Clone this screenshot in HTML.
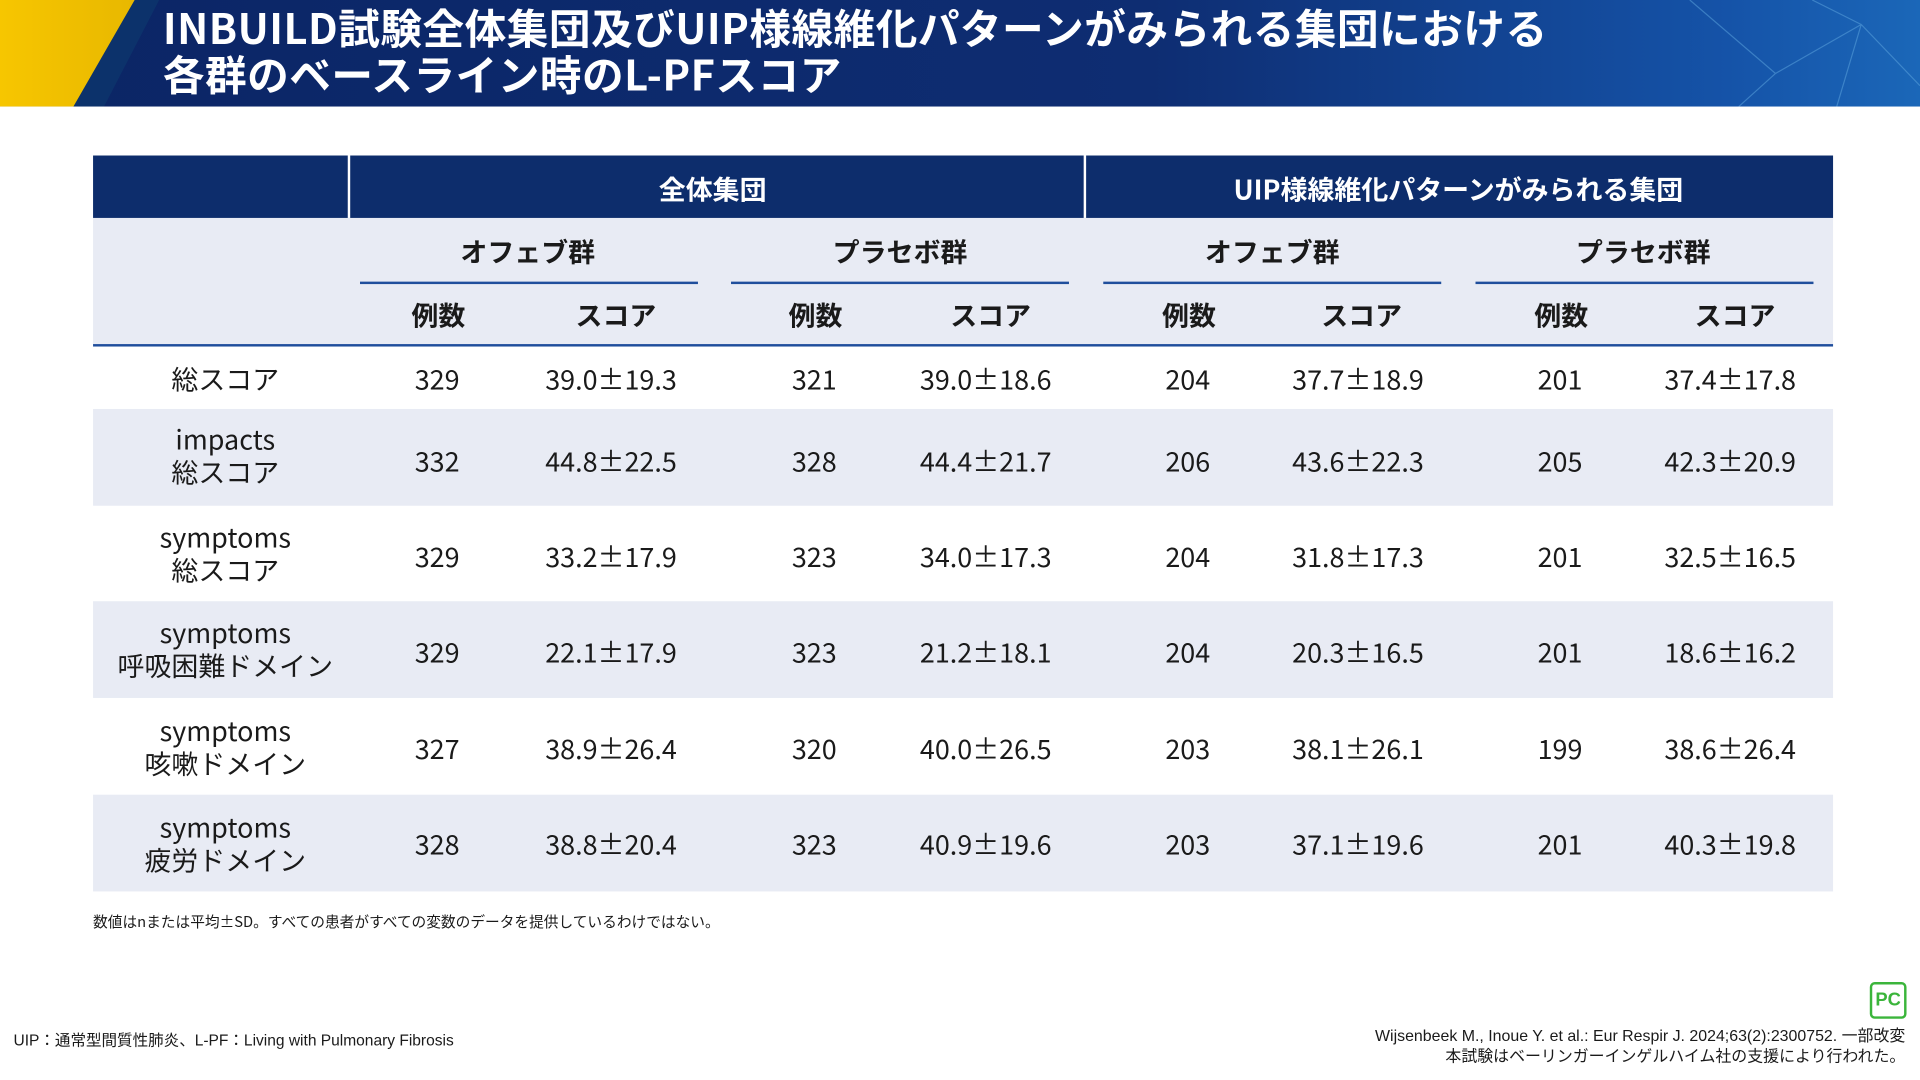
<!DOCTYPE html>
<html><head><meta charset="utf-8"><style>
html,body{margin:0;padding:0;width:1920px;height:1080px;overflow:hidden;background:#fff}
#s{position:absolute;left:0;top:0;width:1568px;height:882px;transform:scale(1.22449);transform-origin:0 0;font-family:"Noto Sans CJK JP","Liberation Sans",sans-serif;color:#1a1a1a}
.hdr{position:absolute;left:0;top:0;width:1568px;height:87px;background:linear-gradient(90deg,#0b2565 0%,#0e2d72 60%,#1553a8 90%,#1b67b8 100%);overflow:hidden}
.t{position:absolute;left:133px;color:#fff;font-weight:bold;font-size:34px;line-height:38px;letter-spacing:0.4px;white-space:nowrap}
.a{position:absolute;white-space:nowrap;text-align:center;transform:translateX(-50%);font-size:22px;line-height:26px}
.b{font-weight:bold}
</style></head><body><div id="s">
<div class="hdr">
<svg width="1568" height="87" style="position:absolute;left:0;top:0">
<defs><linearGradient id="y" x1="0" y1="0" x2="1" y2="0"><stop offset="0" stop-color="#f7c600"/><stop offset="1" stop-color="#e8b800"/></linearGradient></defs>
<polygon points="0,0 110,0 60,87 0,87" fill="url(#y)"/>
<polygon points="60,87 110,0 130,0 85,87" fill="#0d3a6e" opacity="0.6"/>
<g stroke="#5fa8e0" stroke-width="1" opacity="0.5" fill="none">
<path d="M1380,0 L1450,60 L1520,20 L1568,70 M1450,60 L1420,87 M1520,20 L1500,87 M1480,0 L1520,20"/>
</g>
</svg>
<div class="t" style="top:3px">INBUILD試験全体集団及びUIP様線維化パターンがみられる集団における</div>
<div class="t" style="top:41px">各群のベースライン時のL-PFスコア</div>
</div>

<div style="position:absolute;left:76px;top:127px;width:1421px;height:51px;background:#0d2d6c"></div>
<div style="position:absolute;left:284px;top:127px;width:2px;height:51px;background:#fff"></div>
<div style="position:absolute;left:885px;top:127px;width:2px;height:51px;background:#fff"></div>
<div style="position:absolute;left:76px;top:178px;width:1421px;height:104px;background:#e8ebf4"></div>
<div style="position:absolute;left:76px;top:281px;width:1421px;height:2px;background:#1f4e9c"></div>
<div style="position:absolute;left:294px;top:230px;width:276px;height:2px;background:#1f4e9c"></div>
<div style="position:absolute;left:597px;top:230px;width:276px;height:2px;background:#1f4e9c"></div>
<div style="position:absolute;left:901px;top:230px;width:276px;height:2px;background:#1f4e9c"></div>
<div style="position:absolute;left:1205px;top:230px;width:276px;height:2px;background:#1f4e9c"></div>
<div style="position:absolute;left:76px;top:334px;width:1421px;height:79px;background:#e8ebf4"></div>
<div style="position:absolute;left:76px;top:491px;width:1421px;height:79px;background:#e8ebf4"></div>
<div style="position:absolute;left:76px;top:649px;width:1421px;height:79px;background:#e8ebf4"></div>

<div class="a b" style="left:582px;top:141px;color:#fff">全体集団</div>
<div class="a b" style="left:1191px;top:141px;color:#fff">UIP様線維化パターンがみられる集団</div>
<div class="a b" style="left:431px;top:192px">オフェブ群</div>
<div class="a b" style="left:735px;top:192px">プラセボ群</div>
<div class="a b" style="left:1039px;top:192px">オフェブ群</div>
<div class="a b" style="left:1342px;top:192px">プラセボ群</div>
<div class="a b" style="left:358px;top:244px">例数</div>
<div class="a b" style="left:503px;top:244px">スコア</div>
<div class="a b" style="left:666px;top:244px">例数</div>
<div class="a b" style="left:809px;top:244px">スコア</div>
<div class="a b" style="left:971px;top:244px">例数</div>
<div class="a b" style="left:1112px;top:244px">スコア</div>
<div class="a b" style="left:1275px;top:244px">例数</div>
<div class="a b" style="left:1417px;top:244px">スコア</div>

<div class="a" style="left:184px;top:296px">総スコア</div>
<div class="a" style="left:184px;top:345px;line-height:27px">impacts<br>総スコア</div>
<div class="a" style="left:184px;top:425px;line-height:27px">symptoms<br>総スコア</div>
<div class="a" style="left:184px;top:503px;line-height:27px">symptoms<br>呼吸困難ドメイン</div>
<div class="a" style="left:184px;top:583px;line-height:27px">symptoms<br>咳嗽ドメイン</div>
<div class="a" style="left:184px;top:662px;line-height:27px">symptoms<br>疲労ドメイン</div>

<div id="rows"></div>
<script>
var d=[[296,"329","39.0±19.3","321","39.0±18.6","204","37.7±18.9","201","37.4±17.8"],
[363,"332","44.8±22.5","328","44.4±21.7","206","43.6±22.3","205","42.3±20.9"],
[441,"329","33.2±17.9","323","34.0±17.3","204","31.8±17.3","201","32.5±16.5"],
[519,"329","22.1±17.9","323","21.2±18.1","204","20.3±16.5","201","18.6±16.2"],
[598,"327","38.9±26.4","320","40.0±26.5","203","38.1±26.1","199","38.6±26.4"],
[676,"328","38.8±20.4","323","40.9±19.6","203","37.1±19.6","201","40.3±19.8"]];
var x=[357,499,665,805,970,1109,1274,1413],h="";
d.forEach(function(r){for(var i=0;i<8;i++)h+='<div class="a" style="left:'+x[i]+'px;top:'+r[0]+'px">'+r[i+1]+'</div>';});
document.getElementById("rows").innerHTML=h;
</script>

<div style="position:absolute;left:76px;top:744px;font-size:12px;white-space:nowrap">数値はnまたは平均±SD。すべての患者がすべての変数のデータを提供しているわけではない。</div>
<div style="position:absolute;left:11px;top:839px;font-size:12.7px;white-space:nowrap;font-family:'Liberation Sans','Noto Sans CJK JP',sans-serif">UIP：通常型間質性肺炎、L-PF：Living with Pulmonary Fibrosis</div>
<div style="position:absolute;right:12px;top:837px;font-size:13px;white-space:nowrap;text-align:right;line-height:17px;font-family:'Liberation Sans','Noto Sans CJK JP',sans-serif">Wijsenbeek M., Inoue Y. et al.: Eur Respir J. 2024;63(2):2300752. 一部改変<br>本試験はベーリンガーインゲルハイム社の支援により行われた。</div>
<div style="position:absolute;left:1527px;top:802px;width:26px;height:26px;border:2px solid #3bb53b;border-radius:4px;color:#3bb53b;font-weight:bold;font-size:15px;line-height:26px;text-align:center;font-family:'Liberation Sans',sans-serif">PC</div>
</div></body></html>
